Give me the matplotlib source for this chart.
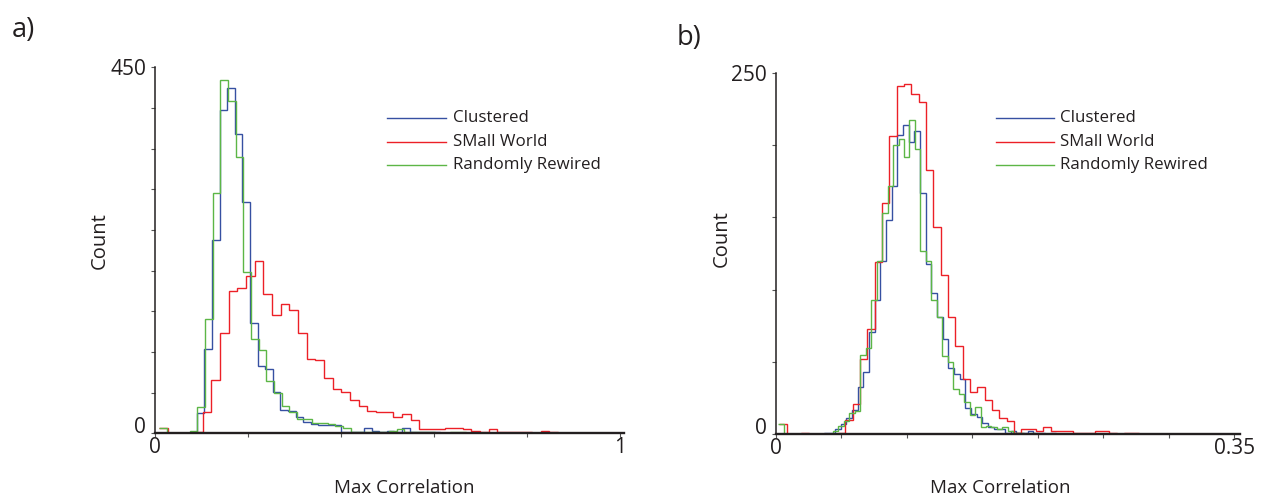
import numpy as np
import matplotlib
matplotlib.use("Agg")
import matplotlib.pyplot as plt
from matplotlib.lines import Line2D

plt.rcParams['font.family'] = ['Open Sans', 'DejaVu Sans']

# ---------------- data ----------------
series_labels = ["Clustered", "SMall World", "Randomly Rewired"]
series_colors = ["#3650a2", "#ec2027", "#5cb646"]

# panel a) : 50-bin histograms (bin width per series), steps drawn between bin centres
a_bin_width = [0.01635, 0.01864, 0.01649]
a_clustered = [0, 0, 0, 0, 0, 25, 104, 238, 397, 424, 368, 284, 136, 83, 79, 51, 29, 27, 20, 14,
               11, 10, 10, 10, 2, 1, 2, 6, 3, 1, 3, 2, 6, 2, 2, 1, 1, 0, 0, 0,
               0, 0, 0, 0, 0, 0, 0, 0, 0]
a_small_world = [6, 0, 0, 0, 1, 26, 66, 123, 175, 179, 193, 212, 171, 145, 159, 151, 123, 91, 90, 68,
                 54, 51, 41, 34, 28, 26, 26, 20, 24, 16, 5, 5, 5, 6, 7, 5, 3, 2, 5, 2,
                 1, 1, 1, 0, 3, 1, 0, 0, 0]
a_rewired = [7, 0, 0, 0, 3, 32, 141, 296, 434, 409, 340, 198, 116, 103, 64, 50, 34, 26, 18, 17,
             13, 13, 11, 9, 6, 2, 2, 1, 1, 2, 3, 5, 1, 2, 2, 1, 0, 0, 1, 1,
             0, 0, 0, 0, 0, 0, 0, 0, 0]

# panel b)
b_bin_width = [0.00432, 0.005594, 0.00417]
b_clustered = [0, 0, 0, 0, 0, 0, 0, 0, 1, 1, 4, 7, 11, 17, 33, 43, 71, 93, 120, 148,
               172, 207, 214, 202, 210, 167, 118, 98, 81, 66, 46, 42, 38, 18, 14, 12, 8, 5, 4, 4,
               1, 2, 1, 1, 2, 1, 1, 0, 1]
b_small_world = [7, 0, 0, 1, 0, 0, 0, 0, 1, 10, 21, 52, 73, 119, 160, 206, 241, 242, 235, 230,
                 183, 143, 110, 81, 61, 38, 29, 33, 24, 17, 11, 9, 1, 4, 4, 2, 5, 2, 2, 2,
                 1, 1, 1, 2, 2, 1, 0, 1, 1]
b_rewired = [7, 0, 0, 0, 0, 0, 0, 0, 0, 0, 2, 6, 9, 15, 16, 55, 60, 93, 120, 153,
             172, 200, 204, 192, 217, 197, 127, 120, 93, 81, 54, 50, 31, 28, 22, 13, 19, 5, 6, 5,
             4, 5, 2, 1, 1, 0, 1, 0, 0]

a_xticks = [0, 0.2, 0.4, 0.6, 0.8, 1.0]
a_xticklabels = ["0", "", "", "", "", "1"]
a_yticks = list(range(0, 451, 50))
a_yticklabels = ["0"] + [""] * 8 + ["450"]

b_xticks = [0, 0.05, 0.10, 0.15, 0.20, 0.25, 0.30, 0.35]
b_xticklabels = ["0", "", "", "", "", "", "", "0.35"]
b_yticks = list(range(0, 251, 50))
b_yticklabels = ["0"] + [""] * 4 + ["250"]

# ---------------- figure ----------------
W, H = 1263, 499
fig = plt.figure(figsize=(W / 100, H / 100), dpi=100)
TXT = "#231f20"


def fx(px):
    return px / W


def fy(py):
    return 1 - py / H


def style_axes(ax, xticks, xlabels, yticks, ylabels):
    for s in ("top", "right"):
        ax.spines[s].set_visible(False)
    ax.spines["left"].set_linewidth(1.1)
    ax.spines["bottom"].set_linewidth(1.7)
    ax.spines["left"].set_color(TXT)
    ax.spines["bottom"].set_color(TXT)
    ax.set_xticks(xticks)
    ax.set_xticklabels(xlabels)
    ax.set_yticks(yticks)
    ax.set_yticklabels(ylabels)
    ax.tick_params(axis="both", direction="out", length=3, width=0.8, color="#555555",
                   labelsize=15, labelcolor=TXT)
    ax.tick_params(axis="x", pad=0.0)
    ax.tick_params(axis="y", pad=3.5)
    ax.get_yticklabels()[0].set_va("baseline")
    ax.patch.set_visible(False)


def draw_hist(ax, widths, counts_list):
    for w, counts, col in zip(widths, counts_list, series_colors):
        counts = np.asarray(counts, dtype=float)
        edges = w / 2 + w * np.arange(len(counts) + 1)
        ax.stairs(counts, edges, baseline=None, color=col, lw=1.0)


# panel a
axA = fig.add_axes([fx(155), fy(433.3), 465 * 1.009 / W, (433.3 - 67.3) / H])
axA.set_xlim(0, 1.009)
axA.set_ylim(0, 450)
draw_hist(axA, a_bin_width, [a_clustered, a_small_world, a_rewired])
style_axes(axA, a_xticks, a_xticklabels, a_yticks, a_yticklabels)

# panel b
axB = fig.add_axes([fx(775.5), fy(434.3), 1311 * 0.3545 / W, (434.3 - 72.7) / H])
axB.set_xlim(0, 0.3545)
axB.set_ylim(0, 250)
draw_hist(axB, b_bin_width, [b_clustered, b_small_world, b_rewired])
style_axes(axB, b_xticks, b_xticklabels, b_yticks, b_yticklabels)

# axis labels
fig.text(fx(404), fy(488), "Max Correlation", ha="center", va="center", fontsize=13.5, color=TXT)
fig.text(fx(1000), fy(488), "Max Correlation", ha="center", va="center", fontsize=13.5, color=TXT)
fig.text(fx(100), fy(241), "Count", ha="center", va="center", rotation=90, fontsize=14.5, color=TXT)
fig.text(fx(722), fy(239), "Count", ha="center", va="center", rotation=90, fontsize=14.5, color=TXT)

# panel letters
fig.text(fx(12), fy(30), "a)", ha="left", va="center", fontsize=19.5, color=TXT)
fig.text(fx(677), fy(38), "b)", ha="left", va="center", fontsize=19.5, color=TXT)

# legends
for x0, x1, xt in [(387, 446, 453), (996, 1054, 1060)]:
    for i, (lab, col) in enumerate(zip(series_labels, series_colors)):
        yy = 118.3 + 23.3 * i
        fig.add_artist(Line2D([fx(x0), fx(x1)], [fy(yy), fy(yy)], transform=fig.transFigure,
                              color=col, lw=1.0))
        fig.text(fx(xt), fy(yy), lab, ha="left", va="center", fontsize=12.2, color=TXT)

fig.savefig("out.png", dpi=100)
